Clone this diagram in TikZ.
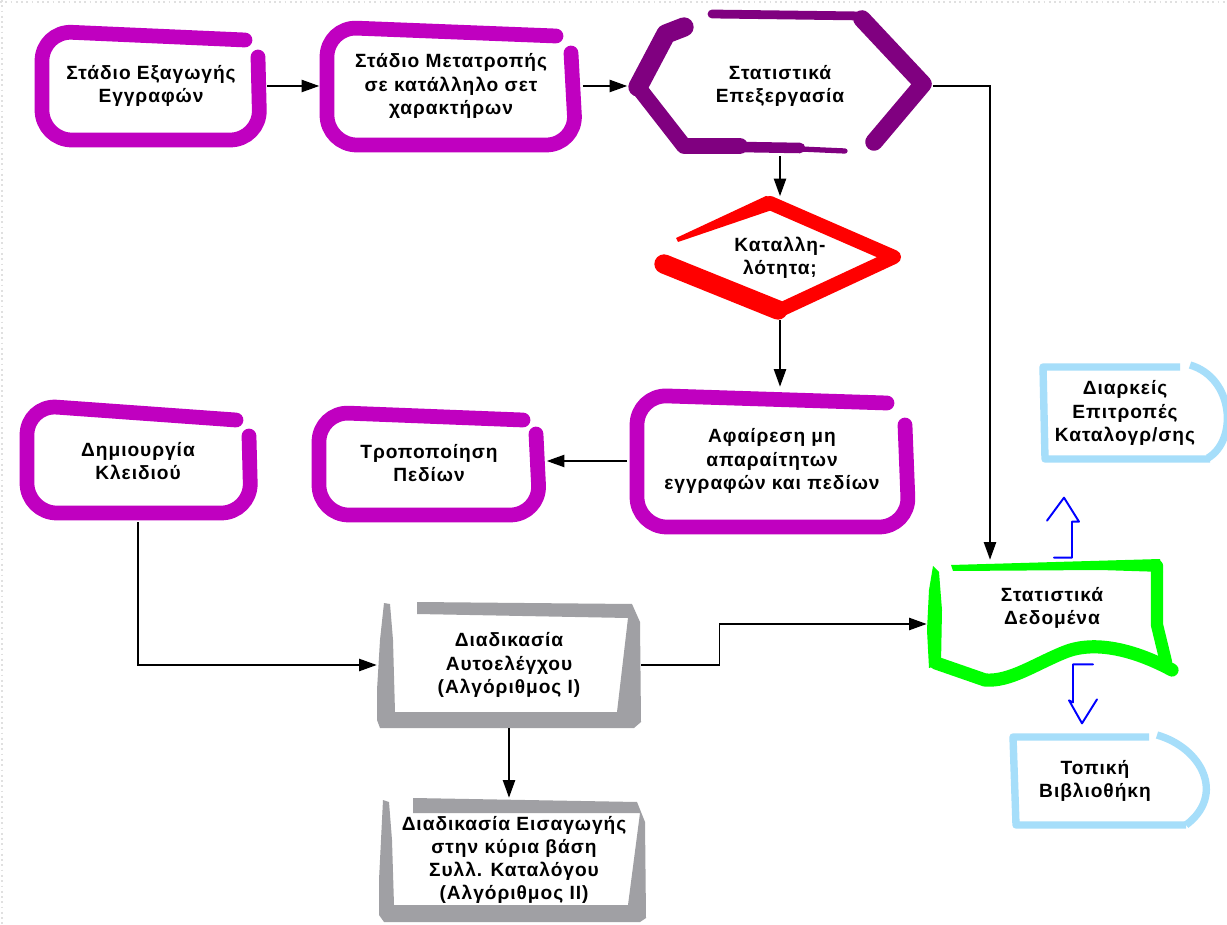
\documentclass[tikz,border=0pt]{standalone}
\usepackage{fontspec}
\setmainfont{Liberation Sans}[LetterSpace=5]
\usetikzlibrary{arrows.meta}

\definecolor{brushpurple}{RGB}{192,0,192}
\definecolor{darkpurple}{RGB}{128,0,128}
\definecolor{brushgreen}{RGB}{0,255,0}
\definecolor{brushgray}{RGB}{160,160,164}
\definecolor{skyblue}{RGB}{166,222,250}

\begin{document}
\begin{tikzpicture}[x=0.02cm, y=-0.02cm,
  lbl/.style={shape=rectangle, draw=none, align=center, inner sep=0pt,
    font=\bfseries\fontsize{10.9}{13.2}\selectfont},
  link/.style={-{Triangle[length=10pt,width=7pt]}, line width=0.8pt},
  pbrush/.style={draw=brushpurple, line width=8.4pt, line cap=round, line join=round, rounded corners=17pt},
  hbrush/.style={draw=darkpurple, line cap=round, line join=round},
  rbrush/.style={draw=red, line cap=round, line join=round},
  gbrush/.style={draw=brushgreen, line cap=round, line join=round},
  sbrush/.style={draw=skyblue, line width=4.2pt, line join=round},
  bluepen/.style={draw=blue, line width=1.1pt, line join=round, line cap=round}]
%%%%%%%%%%%%%%%%%%%%%%%%%%%%%%%%%%%%%%%%%%% HELP LINES
%\draw[help lines, step=100] (0,0) grid (1227,925);
\fill[white] (0,0) rectangle (1227,925);
\useasboundingbox (0,0) rectangle (1227,925);
\draw[black!12, dotted, line width=1pt] (0,2) -- (1227,2);
\draw[black!12, dotted, line width=1pt] (2,0) -- (2,925);

%%%%%%%%%%%%%%%%%%%%%%%%%%%%%%%%%%%%%%%%%%% nodes
\node[lbl, minimum width=4.64cm, minimum height=2.44cm](export) at (151,86) {Στάδιο Εξαγωγής\\Εγγραφών};
\node[lbl, minimum width=5.26cm, minimum height=2.64cm](convert) at (451,86) {Στάδιο Μετατροπής\\σε κατάλληλο σετ\\χαρακτήρων};
\node[lbl, minimum width=6.1cm, minimum height=2.8cm](proc) at (780,86) {Στατιστικά\\Επεξεργασία};
\node[lbl, minimum width=4.98cm, minimum height=2.46cm](decide) at (780,258) {Καταλλη-\\λότητα;};
\node[lbl, minimum width=5.78cm, minimum height=2.96cm](remove) at (772,461) {Αφαίρεση μη\\απαραίτητων\\εγγραφών και πεδίων};
\node[lbl, minimum width=4.7cm, minimum height=2.34cm](modify) at (429,463) {Τροποποίηση\\Πεδίων};
\node[lbl, minimum width=4.8cm, minimum height=2.44cm](key) at (138,461) {Δημιουργία\\Κλειδιού};
\node[lbl, minimum width=5.28cm, minimum height=2.52cm](check) at (509,665) {Διαδικασία\\Αυτοελέγχου\\(Αλγόριθμος I)};
\node[lbl, minimum width=5.24cm, minimum height=2.48cm](load) at (514,860) {Διαδικασία Εισαγωγής\\στην κύρια βάση\\Συλλ. Καταλόγου\\(Αλγόριθμος II)};
\node[lbl, minimum width=5cm, minimum height=2.56cm, text depth=21pt](data) at (1052,624) {Στατιστικά\\Δεδομένα};
\node[lbl, minimum width=3.4cm, minimum height=2cm](committee) at (1125,413) {Διαρκείς\\Επιτροπές\\Καταλογρ/σης};
\node[lbl, minimum width=3.4cm, minimum height=1.9cm](library) at (1095,781) {Τοπική\\Βιβλιοθήκη};

%%%%% purple brush boxes
\draw[pbrush] (245,40) -- (42,31) -- (42,140) -- (260,140) -- (258,57);
\draw[pbrush] (556,36) -- (327,27) -- (327,145) -- (576,145) -- (571,53);
\draw[pbrush] (887,403) -- (637,395) -- (637,527) -- (909,527) -- (905,425);
\draw[pbrush] (523,420) -- (319,412) -- (319,515) -- (540,515) -- (536,434);
\draw[pbrush] (236,420) -- (27,405) -- (27,513) -- (251,513) -- (249,436);

%%%%% hexagon
\draw[hbrush, line width=11pt] (684,27) -- (666,34) -- (638,87);
\draw[hbrush, line width=9pt] (638,87) -- (684,146) -- (740,146);
\draw[hbrush, line width=6pt] (740,147) -- (800,148);
\draw[hbrush, line width=3pt] (800,149) -- (845,151);
\draw[hbrush, line width=10pt] (874,142) -- (923,84) -- (862,19);
\draw[hbrush, line width=5pt] (862,16) -- (712,14);

%%%%% diamond
\fill[red] (676,238) -- (766,196) -- (776,199) -- (772,210) -- (678,242) -- cycle;
\draw[rbrush, line width=8pt] (770,203) -- (894,257) -- (778,311);
\draw[rbrush, line width=11pt] (778,310) -- (664,264);

%%%%% gray boxes
\fill[brushgray] (384,603) -- (390,604) -- (393,640) -- (395,712) -- (617,712) -- (628,618)
  -- (417,614) -- (417,602) -- (632,604) -- (640,622) -- (641,722) -- (634,728)
  -- (380,728) -- (377,720) -- (377,690) -- (380,640) -- cycle;
\fill[brushgray] (383,800) -- (389,802) -- (392,840) -- (394,905) -- (628,905) -- (640,813)
  -- (413,813) -- (413,798) -- (637,802) -- (645,822) -- (646,918) -- (640,922)
  -- (384,922) -- (379,915) -- (379,880) -- (381,840) -- cycle;

%%%%% document shape
\fill[brushgreen] (933,566) -- (939,572) -- (942,610) -- (941,664) -- (929,668) -- (927,630) -- (929,590) -- cycle;
\fill[brushgreen] (951,565) -- (1160,559) -- (1163,572) -- (1100,570) -- (953,571) -- cycle;
\draw[gbrush, line width=7pt] (1157,566) -- (1157,625) -- (1166,662);
\draw[gbrush, line width=7.5pt] (1172,670) .. controls (1135,650) and (1095,640) .. (1065,652)
  .. controls (1035,664) and (1010,682) .. (985,680) -- (936,663);

%%%%% display shapes
\draw[sbrush] (1180,367) -- (1043,367) -- (1045,459) -- (1210,459);
\draw[sbrush] (1190,365) .. controls (1234,378) and (1238,440) .. (1208,458);
\draw[sbrush] (1149,737) -- (1013,737) -- (1016,825) -- (1186,825);
\draw[sbrush] (1157,735) .. controls (1202,748) and (1226,795) .. (1186,825);

%%%%%%%%%%%%%%%%%%%%%%%%%%%%%%%%%%%%%%%%%%% connectors
\coordinate (drop) at (990,0);
\draw[link] (export.east) -- (export.east -| convert.west);
\draw[link] (convert.east) -- (convert.east -| proc.west);
\draw[link] (proc.east) -| (drop |- data.north);
\draw[link] (proc.south) -- (decide.north);
\draw[link] (decide.south) -- (decide.south |- remove.north);
\draw[link] (remove.west) -- (remove.west -| modify.east);
\draw[link] (key.south) |- (check.west);
\draw[link] (check.south) -- (check.south |- load.north);
\draw[link] (check.east) -- ++(78,0) |- (data.west);

%%%%% open arrows
\draw[bluepen] (data.north) ++(2,-2) -- ++(18,0) -- ++(0,-36) -- ++(7,0) -- ++(-15,-24) -- ++(-17,23);
\draw[bluepen] (data.south) ++(41,-24) -- ++(-20,0) -- ++(0,38) -- ++(-4,-2) -- ++(13,23) -- ++(15,-24);
\end{tikzpicture}
\end{document}
